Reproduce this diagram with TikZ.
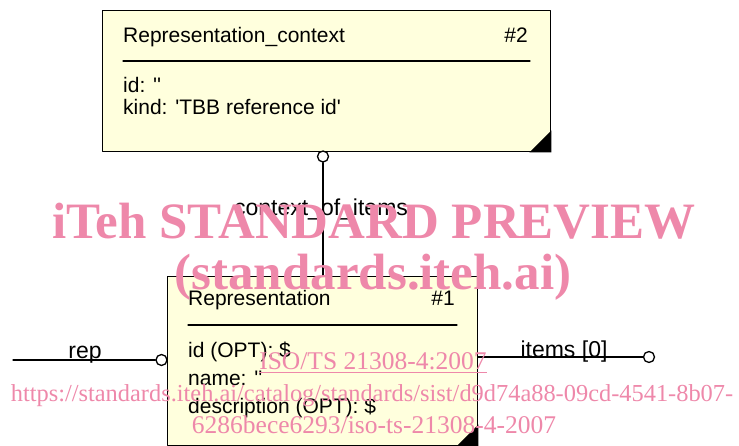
\documentclass[tikz,border=0pt]{standalone}
\usepackage{fontspec}
\setmainfont{Liberation Sans}
\newfontfamily\wmfont{Liberation Serif}
\definecolor{boxfill}{RGB}{255,255,221}
\definecolor{wmpink}{RGB}{238,136,170}
\newcommand{\sq}{\textquotesingle}
\tikzset{
	entity/.style={draw=black, line width=1.4pt, fill=boxfill, inner sep=0pt, anchor=north west},
	endpt/.style={circle, draw=black, line width=1.3pt, fill=white, inner sep=0pt, minimum size=11pt},
	attr/.style={anchor=base west, inner sep=0pt},
	lbl/.style={anchor=base, inner sep=0pt, font=\fontsize{23}{27}\selectfont},
	wm/.style={anchor=base, inner sep=0pt, text=wmpink}
}
\begin{document}
\begin{tikzpicture}[x=1pt, y=-1pt, font=\fontsize{21}{25}\selectfont, line join=round, line cap=round]
	\useasboundingbox (0,0) rectangle (739,446);
	\node[entity, minimum width=448pt, minimum height=141pt] (ctx) at (102,10) {};
	\fill (ctx.south east) -- ++(-22,0) -- ++(22,-22) -- cycle;
	\draw[line width=1.2pt] (123,61) -- (530,61);
	\path (123,43) node[attr] (ctxname) {Representation\_context}
		(528,43) node[attr, anchor=base east] (ctxno) {\#2}
		(123,93) node[attr] (ctxid) {id: \sq\sq}
		(123,115) node[attr] (ctxkind) {kind: \sq TBB reference id\sq};
	\node[entity, minimum width=310pt, minimum height=169pt] (repr) at (167,276) {};
	\fill (repr.south east) -- ++(-22,0) -- ++(22,-22) -- cycle;
	\draw[line width=1.2pt] (188,325) -- (457,325);
	\path (188,306) node[attr] (reprname) {Representation}
		(455,306) node[attr, anchor=base east] (reprno) {\#1}
		(188,357) node[attr] (reprid) {id (OPT): \$}
		(188,385) node[attr] (reprnm) {name: \sq\sq}
		(188,413) node[attr] (reprdesc) {description (OPT): \$};
	% connectors
	\node[endpt] (ctxend) at (323,156.5) {};
	\draw[line width=1.3pt] (ctxend.south) -- (ctxend.south |- repr.north);
	\node[lbl] (ctxlbl) at (321,216) {context\_of\_items};
	\coordinate (repfree) at (13,360);
	\node[endpt] (repend) at (161.5,360) {};
	\draw[line width=1.3pt] (repfree) -- (repend.west);
	\node[lbl] (replbl) at (85,358) {rep};
	\node[endpt] (itemsend) at (649,357) {};
	\draw[line width=1.3pt] (itemsend.west -| repr.east) -- (itemsend.west);
	\node[lbl] (itemslbl) at (564,357) {items [0]};
	% watermark
	\path (374,239) node[wm, font=\wmfont\bfseries\fontsize{51}{51}\selectfont] (wmtitle) {iTeh STANDARD PREVIEW}
		(373,290) node[wm, font=\wmfont\bfseries\fontsize{51}{51}\selectfont] (wmsite) {(standards.iteh.ai)}
		(373,370) node[wm, font=\wmfont\fontsize{25.5}{26}\selectfont] (wmiso) {\underline{ISO/TS 21308-4:2007}}
		(372,401) node[wm, font=\wmfont\fontsize{24.4}{26}\selectfont] (wmurla) {https://standards.iteh.ai/catalog/standards/sist/d9d74a88-09cd-4541-8b07-}
		(374,433) node[wm, font=\wmfont\fontsize{25.5}{26}\selectfont] (wmurlb) {6286bece6293/iso-ts-21308-4-2007};
\end{tikzpicture}
\end{document}
